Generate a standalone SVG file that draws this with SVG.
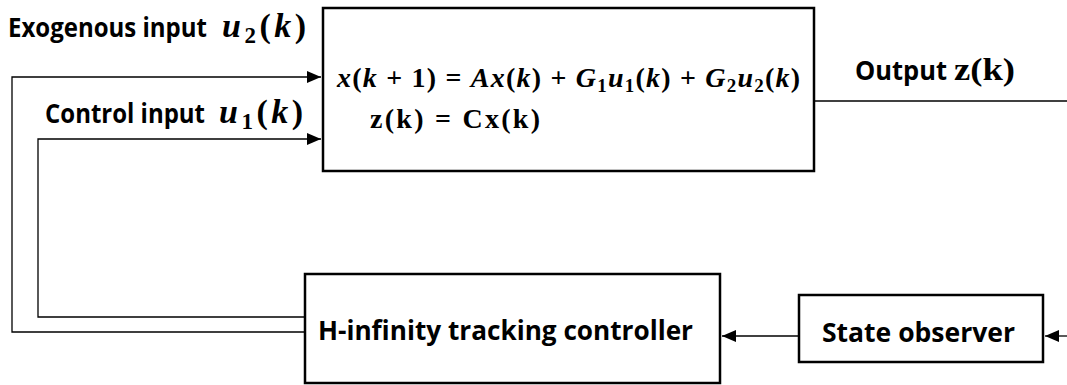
<svg xmlns="http://www.w3.org/2000/svg" width="1067" height="385" viewBox="0 0 1067 385">
<defs>
<marker id="ah" markerWidth="14" markerHeight="12" refX="14" refY="6" orient="auto" markerUnits="userSpaceOnUse"><path d="M0,0 L14,6 L0,12 Z" fill="#000"/></marker>
<style>
.box{fill:#fff;stroke:#000;stroke-width:2.5}
.ln{fill:none;stroke:#000;stroke-width:1.3}
.lab{font-family:"Open Sans","Liberation Sans",sans-serif;font-weight:bold;font-size:26px;fill:#000}
.m{font-family:"Liberation Serif",serif;font-weight:bold;font-style:italic}
.mr{font-family:"Liberation Serif",serif;font-weight:bold;font-style:normal}
.ls{letter-spacing:3.5px}
.eq{font-family:"Liberation Serif",serif;font-weight:bold;font-size:28px;fill:#000}
</style>
</defs>
<g id="connectors">
<path class="ln" d="M305,332 H12 V77 H321" marker-end="url(#ah)"/>
<path class="ln" d="M305,317 H38 V139 H321" marker-end="url(#ah)"/>
<path class="ln" d="M814,101 H1067"/>
<path class="ln" d="M799,336 H722" marker-end="url(#ah)"/>
<path class="ln" d="M1067,336 H1045" marker-end="url(#ah)"/>
</g>
<g id="labels">
<text class="lab" y="37"><tspan x="8" textLength="199" lengthAdjust="spacingAndGlyphs">Exogenous input</tspan><tspan class="m ls" font-size="34" x="222">u</tspan><tspan class="mr ls" font-size="23" dy="6">2</tspan><tspan class="mr ls" font-size="34" dy="-6">(</tspan><tspan class="m ls" font-size="34">k</tspan><tspan class="mr" font-size="34">)</tspan></text>
<text class="lab" y="123"><tspan x="45" textLength="160" lengthAdjust="spacingAndGlyphs">Control input</tspan><tspan class="m ls" font-size="34" x="219">u</tspan><tspan class="mr ls" font-size="23" dy="6">1</tspan><tspan class="mr ls" font-size="34" dy="-6">(</tspan><tspan class="m ls" font-size="34">k</tspan><tspan class="mr" font-size="34">)</tspan></text>
<text class="lab" y="80"><tspan x="855" textLength="92" lengthAdjust="spacingAndGlyphs">Output</tspan><tspan class="mr" font-size="32" x="954" textLength="61" lengthAdjust="spacingAndGlyphs">z(k)</tspan></text>
</g>
<g id="plant">
<rect class="box" x="323" y="8" width="491" height="163"/>
<text class="eq" x="337" y="87" textLength="463" lengthAdjust="spacing"><tspan class="m">x</tspan>(<tspan class="m">k</tspan> + 1) = <tspan class="m">Ax</tspan>(<tspan class="m">k</tspan>) + <tspan class="m">G</tspan><tspan font-size="19" dy="5">1</tspan><tspan class="m" dy="-5">u</tspan><tspan font-size="19" dy="5">1</tspan><tspan dy="-5">(</tspan><tspan class="m">k</tspan>) + <tspan class="m">G</tspan><tspan font-size="19" dy="5">2</tspan><tspan class="m" dy="-5">u</tspan><tspan font-size="19" dy="5">2</tspan><tspan dy="-5">(</tspan><tspan class="m">k</tspan>)</text>
<text class="eq" x="370" y="128" textLength="170" lengthAdjust="spacing">z(k) = Cx(k)</text>
</g>
<g id="controller">
<rect class="box" x="305" y="274" width="415" height="109"/>
<text class="lab" x="318" y="340" textLength="375" lengthAdjust="spacingAndGlyphs">H-infinity tracking controller</text>
</g>
<g id="observer">
<rect class="box" x="799" y="295" width="244" height="67"/>
<text class="lab" x="822" y="342" textLength="193" lengthAdjust="spacingAndGlyphs">State observer</text>
</g>
</svg>
